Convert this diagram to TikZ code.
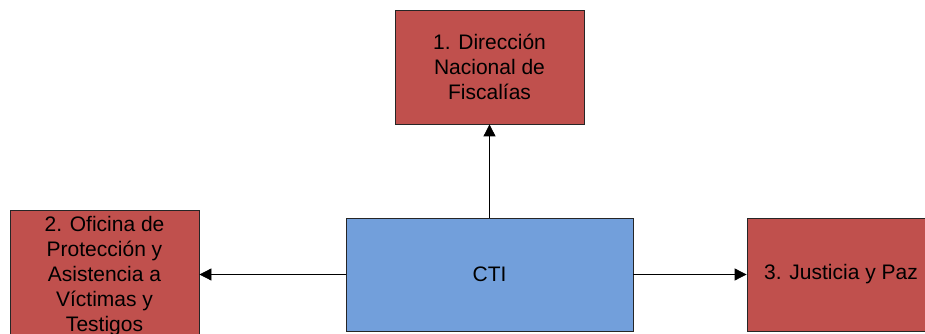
\documentclass[tikz,border=0pt]{standalone}
\usepackage{fontspec}
\setmainfont{Liberation Sans}
\usetikzlibrary{arrows.meta}
\definecolor{boxred}{HTML}{C0504D}
\definecolor{boxblue}{HTML}{729FDB}
\tikzset{
	unitbox/.style={draw=black!85, line width=0.8pt, fill=boxred, inner sep=0pt, align=center,
		font=\fontsize{21}{25}\selectfont},
	linkarrow/.style={line width=0.8pt, -{Triangle[length=12pt,width=12pt]}}
}
\begin{document}
\begin{tikzpicture}[x=1pt,y=1pt]
			%%%%% START %%%%%
			
			\clip (0, 0) rectangle (925, 334);
			
			\node[unitbox, fill=boxblue, minimum width=287pt, minimum height=113pt] (cti) at (489.5, 59.5) {CTI};
			
			\node[unitbox, minimum width=189pt, minimum height=114pt] (fiscalias) at (489.5, 267) {1. Dirección\\Nacional de\\Fiscalías};
			\node[unitbox, minimum width=189pt, minimum height=132pt] (victimas) at (104.5, 58) {2. Oficina de\\Protección y\\Asistencia a\\Víctimas y\\Testigos};
			\node[unitbox, minimum width=188pt, minimum height=113pt] (justicia) at (841, 59.5) {3. Justicia y Paz};
			
			\draw[linkarrow] (cti.north) -- (fiscalias.south);
			\draw[linkarrow] (cti.west) -- (cti.west -| victimas.east);
			\draw[linkarrow] (cti.east) -- (justicia.west);
			
			%%%%% END %%%%%
		\end{tikzpicture}
\end{document}
